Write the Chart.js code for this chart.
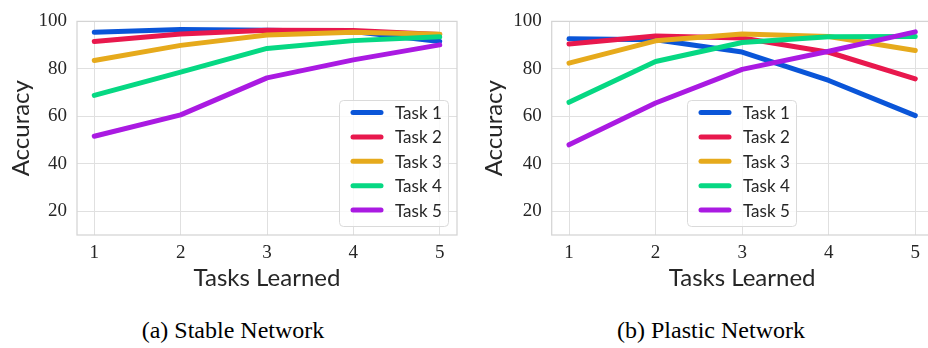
<!DOCTYPE html>
<html>
<head>
<meta charset="utf-8">
<script src="https://cdn.jsdelivr.net/npm/chart.js@4.4.0/dist/chart.umd.min.js"></script>
<style>
  html, body { margin: 0; padding: 0; background: #fff; overflow: hidden; }
  body { width: 928px; height: 348px; position: relative; }
  .panel { position: absolute; top: 0; }
  .caption { position: absolute; top: 318px; width: 300px; text-align: center;
             font: 24px/24px "Liberation Serif", serif; color: #000; white-space: nowrap; }
</style>
</head>
<body>
<div class="panel" style="left:0"><canvas id="stable" width="464" height="300"></canvas></div>
<div class="panel" style="left:470px"><canvas id="plastic" width="466" height="300"></canvas></div>
<div class="caption" style="left:83px">(a) Stable Network</div>
<div class="caption" style="left:561px">(b) Plastic Network</div>

<script>
const tasksLearned = [1, 2, 3, 4, 5];
const taskNames = ['Task 1', 'Task 2', 'Task 3', 'Task 4', 'Task 5'];
const yTicks = [20, 40, 60, 80, 100];

// accuracy per task after learning n tasks, stable network
const stableTask1 = [95.4, 96.6, 96.3, 95.7, 91.5];
const stableTask2 = [91.5, 94.7, 96.3, 96.2, 94.5];
const stableTask3 = [83.5, 89.9, 94.3, 95.4, 94.6];
const stableTask4 = [68.8, 78.6, 88.6, 91.9, 93.5];
const stableTask5 = [51.6, 60.6, 76.2, 83.8, 90.1];

// plastic network
const plasticTask1 = [92.7, 92.3, 87.1, 75.1, 60.3];
const plasticTask2 = [90.5, 93.8, 93.0, 87.0, 75.8];
const plasticTask3 = [82.4, 91.8, 94.7, 93.6, 87.7];
const plasticTask4 = [65.9, 83.1, 91.1, 93.5, 93.6];
const plasticTask5 = [48.0, 65.6, 79.8, 87.4, 95.6];

const taskColors = ['#0a55d8', '#e8184d', '#e6aa1c', '#06d883', '#aa1ae2'];
const textColor = '#262626';
const gridColor = '#e0e0e0';

// light frame round the whole plot area (seaborn whitegrid look)
const framePlugin = {
  id: 'frame',
  beforeDatasetsDraw(chart) {
    const {ctx, chartArea: a} = chart;
    ctx.save();
    ctx.strokeStyle = '#d4d4d4';
    ctx.lineWidth = 1.25;
    ctx.strokeRect(a.left, a.top, a.right - a.left, a.bottom - a.top);
    ctx.restore();
  }
};

// matplotlib style legend box inside the plot
const boxLegend = {
  id: 'boxLegend',
  afterDatasetsDraw(chart, args, opts) {
    const ctx = chart.ctx;
    const x = opts.x, y = opts.y, w = 109, h = 126;
    ctx.save();
    ctx.beginPath();
    ctx.roundRect(x + 0.5, y + 0.5, w, h, 4);
    ctx.fillStyle = 'rgba(255,255,255,0.8)';
    ctx.fill();
    ctx.strokeStyle = '#dadada';
    ctx.lineWidth = 1;
    ctx.stroke();
    ctx.font = '17px Lato';
    ctx.textBaseline = 'middle';
    chart.data.datasets.forEach((ds, i) => {
      const ry = y + 12.5 + i * 24.4;
      ctx.strokeStyle = ds.borderColor;
      ctx.lineWidth = 5;
      ctx.lineCap = 'round';
      ctx.beginPath();
      ctx.moveTo(x + 14, ry);
      ctx.lineTo(x + 42, ry);
      ctx.stroke();
      ctx.fillStyle = textColor;
      ctx.fillText(ds.label, x + 56, ry + 1);
    });
    ctx.restore();
  }
};

function makeChart(id, series, opt) {
  return new Chart(document.getElementById(id), {
    type: 'line',
    data: {
      datasets: series.map((vals, i) => ({
        label: taskNames[i],
        data: vals.map((v, j) => ({x: tasksLearned[j], y: v})),
        borderColor: taskColors[i],
        borderWidth: 5,
        borderCapStyle: 'round',
        borderJoinStyle: 'round',
        pointRadius: 0,
        order: series.length - i,
      }))
    },
    options: {
      responsive: false,
      animation: false,
      events: [],
      layout: {padding: {left: 0, top: 8, right: opt.padRight, bottom: 0}},
      plugins: {
        legend: {display: false},
        tooltip: {enabled: false},
        boxLegend: {x: opt.legendX, y: 100}
      },
      scales: {
        x: {
          type: 'linear', min: 0.8, max: 5.2,
          afterBuildTicks: s => { s.ticks = tasksLearned.map(v => ({value: v})); },
          afterFit: s => { s.height = 65; },
          grid: {color: gridColor, lineWidth: 1, drawTicks: false},
          border: {display: false},
          ticks: {padding: 7, color: textColor, font: {family: 'Liberation Serif', size: 19}},
          title: {display: true, text: 'Tasks Learned', color: textColor,
                  font: {family: 'Lato', size: 24, lineHeight: 1}, padding: {top: 0, bottom: 10}}
        },
        y: {
          min: 10, max: 100,
          afterBuildTicks: s => { s.ticks = yTicks.map(v => ({value: v})); },
          afterFit: s => { s.width = opt.yWidth; },
          grid: {color: gridColor, lineWidth: 1, drawTicks: false},
          border: {display: false},
          ticks: {padding: 10, color: textColor, font: {family: 'Liberation Serif', size: 19}},
          title: {display: true, text: 'Accuracy', color: textColor,
                  font: {family: 'Lato', size: 24, lineHeight: 1}, padding: {top: opt.titlePad, bottom: 0}}
        }
      }
    },
    plugins: [framePlugin, boxLegend]
  });
}

makeChart('stable',
  [stableTask1, stableTask2, stableTask3, stableTask4, stableTask5],
  {padRight: 7, yWidth: 77, titlePad: 9, legendX: 339});

makeChart('plastic',
  [plasticTask1, plasticTask2, plasticTask3, plasticTask4, plasticTask5],
  {padRight: 3.4, yWidth: 81.7, titlePad: 12, legendX: 217});
</script>
</body>
</html>
